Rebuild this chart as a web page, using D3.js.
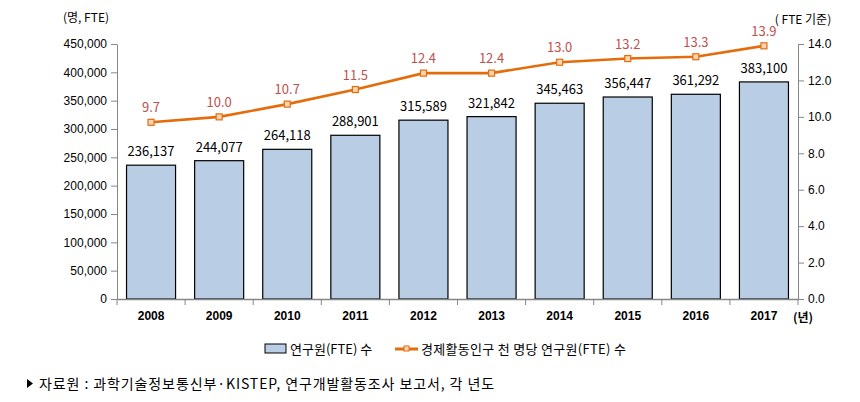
<!DOCTYPE html>
<html><head><meta charset="utf-8">
<script src="https://cdn.jsdelivr.net/npm/d3@7"></script>
<style>body{margin:0;background:#fff;}svg{display:block;font-family:"Noto Sans CJK KR","Malgun Gothic",sans-serif;}</style>
</head><body><svg id="c" width="860" height="402"></svg>
<script>
const years = ["2008","2009","2010","2011","2012","2013","2014","2015","2016","2017"];
const researchers = [236137,244077,264118,288901,315589,321842,345463,356447,361292,383100];
const perThousand = [9.7,10.0,10.7,11.5,12.4,12.4,13.0,13.2,13.3,13.9];
const leftTicks = [0,50000,100000,150000,200000,250000,300000,350000,400000,450000];
const rightTicks = [0,2,4,6,8,10,12,14];

const svg = d3.select("#c");
const L=117, R=798, T=44, B=299;
const x = d3.scaleBand().domain(years).range([L,R]).paddingInner(0.28).paddingOuter(0.14);
const xb = d3.scaleBand().domain(years).range([L,R]);
const y = d3.scaleLinear().domain([0,450000]).range([B,T]);
const y2 = d3.scaleLinear().domain([0,14]).range([B,T]);
const axisCol="#868686";
const fmt = d3.format(",");

const la = svg.append("g").attr("transform",`translate(${L},0)`)
  .call(d3.axisLeft(y).tickValues(leftTicks).tickFormat(fmt).tickSize(6).tickSizeOuter(0));
la.select(".domain").attr("stroke",axisCol);
la.selectAll(".tick line").attr("stroke",axisCol);
la.selectAll("text").attr("font-size",12).attr("fill","#000").attr("x",-10);

const ra = svg.append("g").attr("transform",`translate(${R},0)`)
  .call(d3.axisRight(y2).tickValues(rightTicks).tickFormat(d3.format(".1f")).tickSize(6).tickSizeOuter(0));
ra.select(".domain").attr("stroke",axisCol);
ra.selectAll(".tick line").attr("stroke",axisCol);
ra.selectAll("text").attr("font-size",12).attr("fill","#000").attr("x",10);

svg.append("g").selectAll("rect").data(researchers).join("rect")
  .attr("x",(d,i)=>x(years[i])).attr("width",x.bandwidth())
  .attr("y",d=>y(d)).attr("height",d=>B-y(d))
  .attr("fill","#B9CDE5").attr("stroke","#000").attr("stroke-width",1.2);

const ba = svg.append("g").attr("transform",`translate(0,${B})`)
  .call(d3.axisBottom(xb).tickSize(0).tickPadding(12));
ba.select(".domain").attr("stroke",axisCol).attr("stroke-width",1.3);
ba.selectAll("text").attr("font-size",12).attr("fill","#000").attr("font-weight","bold");
const bounds = years.map(d=>xb(d)).concat([R]);
svg.append("g").selectAll("line").data(bounds).join("line")
  .attr("x1",d=>d).attr("x2",d=>d).attr("y1",B).attr("y2",B+6).attr("stroke",axisCol);

svg.append("g").selectAll("text").data(researchers).join("text")
  .attr("x",(d,i)=>xb(years[i])+xb.bandwidth()/2).attr("y",d=>y(d)-9)
  .attr("text-anchor","middle").attr("font-size",13).attr("fill","#000").text(d=>fmt(d));

const cx = i=>xb(years[i])+xb.bandwidth()/2;
const line = d3.line().x((d,i)=>cx(i)).y(d=>y2(d));
svg.append("path").datum(perThousand).attr("d",line).attr("fill","none")
  .attr("stroke","#E46C0A").attr("stroke-width",2.6);
svg.append("g").selectAll("rect").data(perThousand).join("rect")
  .attr("x",(d,i)=>cx(i)-3).attr("y",d=>y2(d)-3).attr("width",6).attr("height",6)
  .attr("fill","#FCD5B5").attr("stroke","#E46C0A").attr("stroke-width",1.2);
svg.append("g").selectAll("text").data(perThousand).join("text")
  .attr("x",(d,i)=>cx(i)).attr("y",d=>y2(d)-10)
  .attr("text-anchor","middle").attr("font-size",13).attr("fill","#C0504D").text(d=>d.toFixed(1));

svg.append("text").attr("x",86).attr("y",22).attr("text-anchor","middle").attr("font-size",12).text("(명, FTE)");
svg.append("text").attr("x",803).attr("y",24).attr("text-anchor","middle").attr("font-size",12).text("( FTE 기준)");
svg.append("text").attr("x",803).attr("y",322).attr("text-anchor","middle").attr("font-size",12).attr("font-weight","bold").text("(년)");

const lg = svg.append("g");
lg.append("rect").attr("x",265).attr("y",344).attr("width",21).attr("height",9).attr("fill","#B9CDE5").attr("stroke","#000");
lg.append("text").attr("x",290).attr("y",354).attr("font-size",13).text("연구원(FTE) 수");
lg.append("line").attr("x1",395).attr("x2",418).attr("y1",349).attr("y2",349).attr("stroke","#E46C0A").attr("stroke-width",3);
lg.append("rect").attr("x",404).attr("y",346).attr("width",5).attr("height",5).attr("fill","#FCD5B5").attr("stroke","#E46C0A");
lg.append("text").attr("x",421).attr("y",354).attr("font-size",13).attr("letter-spacing",0.3).text("경제활동인구 천 명당 연구원(FTE) 수");

svg.append("path").attr("d","M27,379 L33,383.5 L27,388 Z").attr("fill","#000");
svg.append("text").attr("x",39).attr("y",389).attr("font-size",14).attr("letter-spacing",0.9).text("자료원 : 과학기술정보통신부·KISTEP, 연구개발활동조사 보고서, 각 년도");
</script></body></html>
